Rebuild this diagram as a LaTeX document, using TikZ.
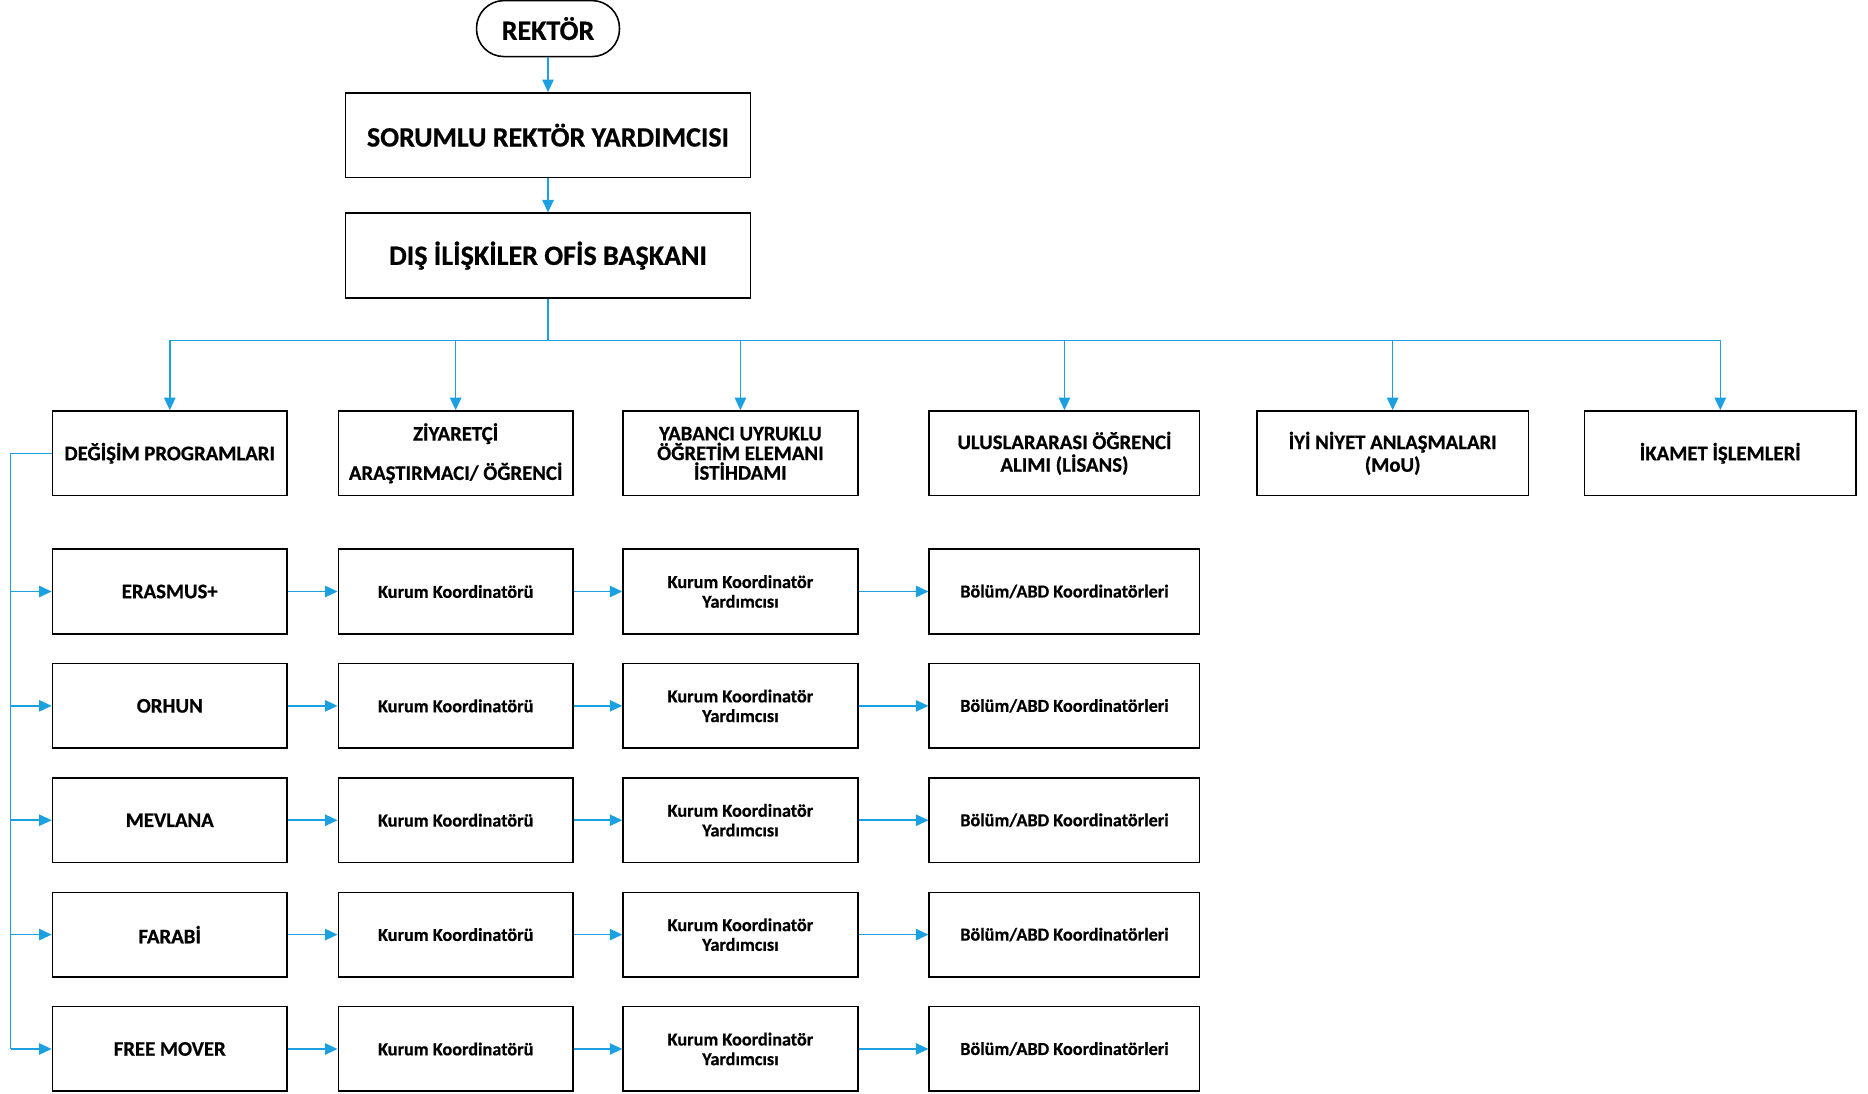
\documentclass[tikz,border=0pt]{standalone}
\usepackage{fontspec}
\setmainfont{Carlito}[BoldFeatures={FakeBold=0.6}]
\usetikzlibrary{arrows.meta}
\definecolor{linkblue}{RGB}{27,161,226}
\begin{document}
\begin{tikzpicture}[x=1pt,y=-1pt,
  box/.style={draw=black, line width=1.3pt, rectangle, inner sep=0pt, align=center, minimum height=71pt},
  topfont/.style={font=\fontsize{23.5}{26}\selectfont\bfseries},
  hfont/.style={font=\fontsize{17.4}{19}\selectfont\bfseries},
  sfont/.style={font=\fontsize{15.3}{16.5}\selectfont\bfseries},
  conn/.style={draw=linkblue, line width=1.3pt, -{Triangle[length=10.5pt,width=9.5pt]}},
  plain/.style={draw=linkblue, line width=1.3pt}]
\useasboundingbox (0,0) rectangle (1568,918);
% top
\node[draw=black, line width=1.3pt, rounded corners=23pt, minimum width=120pt, minimum height=47pt, inner sep=0pt, topfont] (rek) at (460,24) {REKTÖR};
\node[box, minimum width=340pt, topfont] (sor) at (460,113.5) {SORUMLU REKTÖR YARDIMCISI};
\node[box, minimum width=340pt, topfont] (dis) at (460,214.5) {DIŞ İLİŞKİLER OFİS BAŞKANI};
% row 1
\node[box, minimum width=197pt, hfont] (dp) at (142.5,380.5) {DEĞİŞİM PROGRAMLARI};
\node[box, minimum width=197pt, font=\fontsize{17.4}{18}\selectfont\bfseries] (zv) at (382.5,380.5) {ZİYARETÇİ\\[15pt]ARAŞTIRMACI/ ÖĞRENCİ};
\node[box, minimum width=197pt, font=\fontsize{17.4}{16.5}\selectfont\bfseries] (yb) at (621.5,380.5) {YABANCI UYRUKLU\\ÖĞRETİM ELEMANI\\İSTİHDAMI};
\node[box, minimum width=227pt, hfont] (ul) at (893.5,380.5) {ULUSLARARASI ÖĞRENCİ\\ALIMI (LİSANS)};
\node[box, minimum width=228pt, hfont] (iy) at (1169,380.5) {İYİ NİYET ANLAŞMALARI\\(MoU)};
\node[box, minimum width=228pt, hfont] (ik) at (1444,380.5) {İKAMET İŞLEMLERİ};
% program rows
\foreach \n/\lab/\yy in {er/ERASMUS+/496.5, or/ORHUN/592.5, me/MEVLANA/688.5, fa/FARABİ/784.5, fm/FREE MOVER/880.5}{
  \node[box, minimum width=197pt, hfont] (\n1) at (142.5,\yy) {\lab};
  \node[box, minimum width=197pt, sfont] (\n2) at (382.5,\yy) {Kurum Koordinatörü};
  \node[box, minimum width=197pt, sfont] (\n3) at (621.5,\yy) {Kurum Koordinatör\\Yardımcısı};
  \node[box, minimum width=227pt, sfont] (\n4) at (893.5,\yy) {Bölüm/ABD Koordinatörleri};
  \draw[conn] (\n1) -- (\n2);
  \draw[conn] (\n2) -- (\n3);
  \draw[conn] (\n3) -- (\n4);
}
% top connectors
\draw[conn] (rek) -- (sor);
\draw[conn] (sor) -- (dis);
\coordinate (busy) at (0,286);
\foreach \c in {dp,zv,yb,ul,iy,ik}{
  \draw[conn] (dis.south) -- (dis.south |- busy) -| (\c.north);
}
% left bus
\coordinate (lb) at (9,0);
\draw[plain] (dp.west) -- (dp.west -| lb) -- (lb |- fm1.west);
\foreach \n in {er,or,me,fa,fm}{
  \draw[conn] (lb |- \n1.west) -- (\n1.west);
}
\end{tikzpicture}
\end{document}
